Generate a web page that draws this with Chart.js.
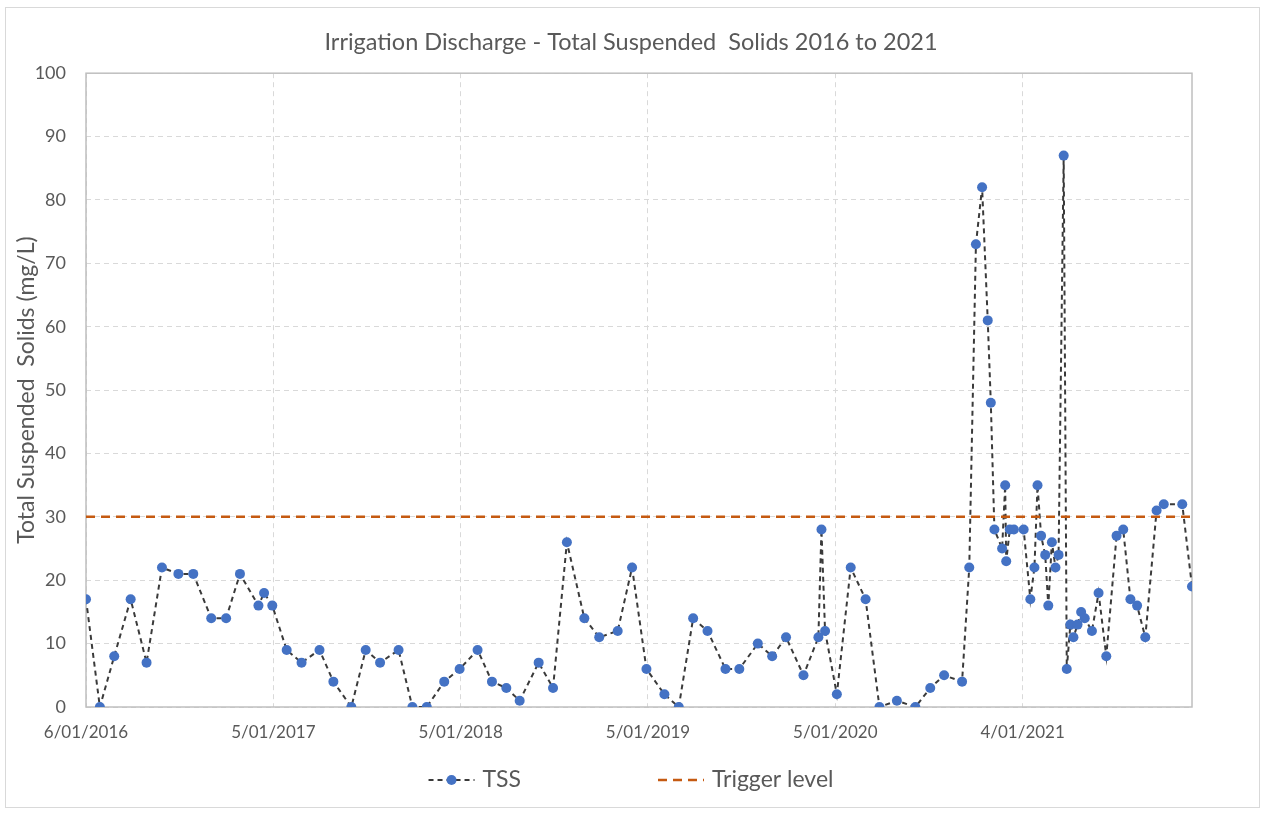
<!DOCTYPE html>
<html>
<head>
<meta charset="utf-8">
<title>Irrigation Discharge - TSS</title>
<script src="https://cdn.jsdelivr.net/npm/chart.js@4"></script>
<style>
    html, body { margin: 0; padding: 0; background: #fff; }
    canvas { display: block; }
</style>
</head>
<body>
<canvas id="chart" width="1262" height="813"></canvas>
<script>
// 采样日：距首次采样 (6/01/2016) 的天数
const sampleDay = [
    0, 27, 55, 87, 118, 148, 180, 209, 244, 273,
    300, 336, 347, 363, 391, 420, 455, 482, 517, 545,
    573, 609, 636, 664, 698, 728, 763, 791, 819, 845,
    882, 910, 937, 971, 1000, 1036, 1064, 1092, 1127, 1155,
    1183, 1211, 1246, 1273, 1309, 1337, 1364, 1398, 1427, 1433,
    1440, 1463, 1490, 1519, 1546, 1580, 1616, 1645, 1672, 1707,
    1721, 1734, 1746, 1757, 1763, 1770, 1785, 1791, 1793, 1800,
    1808, 1827, 1840, 1848, 1854, 1861, 1869, 1875, 1882, 1889,
    1895, 1905, 1911, 1918, 1924, 1932, 1939, 1946, 1960, 1973,
    1988, 2008, 2021, 2035, 2048, 2064, 2086, 2100, 2136, 2155
];
// TSS (mg/L)
const tssValues = [
    17, 0, 8, 17, 7, 22, 21, 21, 14, 14,
    21, 16, 18, 16, 9, 7, 9, 4, 0, 9,
    7, 9, 0, 0, 4, 6, 9, 4, 3, 1,
    7, 3, 26, 14, 11, 12, 22, 6, 2, 0,
    14, 12, 6, 6, 10, 8, 11, 5, 11, 28,
    12, 2, 22, 17, 0, 1, 0, 3, 5, 4,
    22, 73, 82, 61, 48, 28, 25, 35, 23, 28,
    28, 28, 17, 22, 35, 27, 24, 16, 26, 22,
    24, 87, 6, 13, 11, 13, 15, 14, 12, 18,
    8, 27, 28, 17, 16, 11, 31, 32, 32, 19
];
const triggerLevel = 30;

// x轴刻度（天数）和标签
const tickDays = [0, 365, 730, 1095, 1460, 1825];
const tickLabels = ['6/01/2016', '5/01/2017', '5/01/2018', '5/01/2019', '5/01/2020', '4/01/2021'];

const FONT = 'Lato, "Open Sans", sans-serif';
const TEXT = '#595959';

const lastDay = sampleDay[sampleDay.length - 1];
const tssPoints = sampleDay.map((d, i) => ({ x: d, y: tssValues[i] }));
const triggerPoints = [{ x: sampleDay[0], y: triggerLevel }, { x: lastDay, y: triggerLevel }];

// 外框、绘图区边框、底部图例
const framePlugin = {
    id: 'frame',
    beforeDraw(chart) {
        const ctx = chart.ctx;
        ctx.save();
        ctx.fillStyle = '#fff';
        ctx.fillRect(0, 0, chart.width, chart.height);
        ctx.strokeStyle = '#d9d9d9';
        ctx.lineWidth = 1;
        ctx.strokeRect(5.5, 7.5, chart.width - 8, chart.height - 13);
        ctx.restore();
    },
    beforeDatasetsDraw(chart) {
        const a = chart.chartArea;
        const ctx = chart.ctx;
        ctx.save();
        ctx.strokeStyle = '#bfbfbf';
        ctx.lineWidth = 1.5;
        ctx.strokeRect(a.left, a.top, a.right - a.left, a.bottom - a.top);
        ctx.restore();
    },
    afterDraw(chart) {
        const ctx = chart.ctx;
        const sets = chart.data.datasets;
        const symW = 46, gap = 8, itemGap = 137, y = 780;
        ctx.save();
        ctx.font = '23px ' + FONT;
        ctx.textBaseline = 'middle';
        const widths = sets.map(ds => symW + gap + ctx.measureText(ds.label).width);
        const total = widths.reduce((s, w) => s + w, 0) + itemGap * (sets.length - 1);
        let x = chart.width / 2 - total / 2;
        sets.forEach((ds, i) => {
            ctx.strokeStyle = ds.borderColor;
            ctx.lineWidth = ds.borderWidth;
            ctx.setLineDash(ds.borderDash);
            ctx.beginPath();
            ctx.moveTo(x, y);
            ctx.lineTo(x + symW, y);
            ctx.stroke();
            ctx.setLineDash([]);
            if (ds.pointRadius > 0) {
                ctx.fillStyle = ds.pointBackgroundColor;
                ctx.beginPath();
                ctx.arc(x + symW / 2, y, ds.pointRadius, 0, Math.PI * 2);
                ctx.fill();
            }
            ctx.fillStyle = TEXT;
            ctx.textAlign = 'left';
            ctx.fillText(ds.label, x + symW + gap, y);
            x += widths[i] + itemGap;
        });
        ctx.restore();
    }
};

new Chart(document.getElementById('chart'), {
    type: 'line',
    data: {
        datasets: [
            {
                label: 'TSS',
                data: tssPoints,
                borderColor: '#3a3a3a',
                borderWidth: 2,
                borderDash: [5, 4],
                pointRadius: 5,
                pointBackgroundColor: '#4472C4',
                pointBorderWidth: 0,
                tension: 0,
                order: 1
            },
            {
                label: 'Trigger level',
                data: triggerPoints,
                borderColor: '#C55A11',
                borderWidth: 2.5,
                borderDash: [9, 6],
                pointRadius: 0,
                order: 0
            }
        ]
    },
    options: {
        responsive: false,
        animation: false,
        layout: { padding: { top: 20, right: 0, bottom: 66, left: 0 } },
        plugins: {
            legend: { display: false },
            tooltip: { enabled: false },
            title: {
                display: true,
                text: 'Irrigation Discharge - Total Suspended  Solids 2016 to 2021',
                color: TEXT,
                font: { family: FONT, size: 23.5, weight: 'normal' },
                padding: { top: 8, bottom: 17 }
            }
        },
        scales: {
            x: {
                type: 'linear',
                min: sampleDay[0],
                max: lastDay,
                afterBuildTicks: axis => { axis.ticks = tickDays.map(v => ({ value: v })); },
                afterFit: axis => { axis.height = 40; },
                ticks: {
                    callback: (v, i) => tickLabels[i],
                    color: TEXT,
                    font: { family: FONT, size: 17 },
                    padding: 15,
                    maxRotation: 0,
                    autoSkip: false
                },
                grid: { color: '#d9d9d9', drawTicks: false },
                border: { display: false, dash: [5, 4] }
            },
            y: {
                min: 0,
                max: 100,
                afterFit: axis => { axis.width = 86; },
                ticks: {
                    stepSize: 10,
                    color: TEXT,
                    font: { family: FONT, size: 18 },
                    padding: 20
                },
                grid: { color: '#d9d9d9', drawTicks: false },
                border: { display: false, dash: [5, 4] },
                title: {
                    display: true,
                    text: 'Total Suspended  Solids (mg/L)',
                    color: TEXT,
                    font: { family: FONT, size: 23 },
                    padding: { top: 13, bottom: 0 }
                }
            },
            // 右侧留白用的空轴
            yRight: {
                position: 'right',
                min: 0,
                max: 100,
                afterFit: axis => { axis.width = 70; },
                ticks: { display: false },
                grid: { display: false },
                border: { display: false }
            }
        }
    },
    plugins: [framePlugin]
});
</script>
</body>
</html>
